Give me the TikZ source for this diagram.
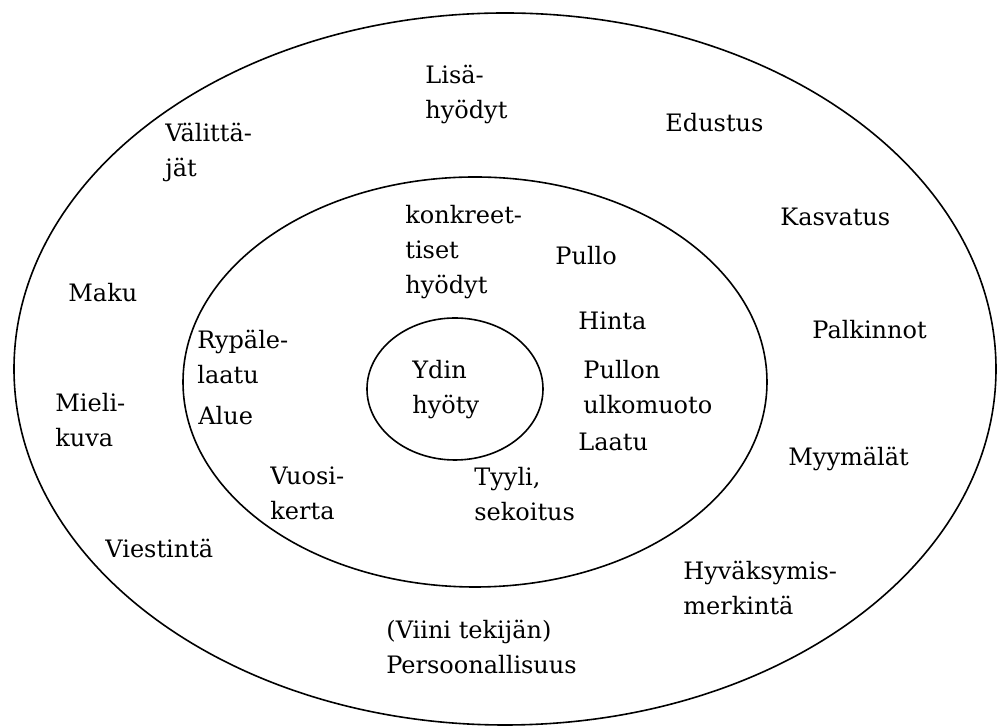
\documentclass[tikz,border=0pt]{standalone}
\usepackage{fontspec}
\setmainfont{DejaVu Serif}
\usepackage{tikz}

\begin{document}
\begin{tikzpicture}[x=0.5pt, y=0.5pt,
		kehä/.style={line width=0.8pt},
		sana/.style={anchor=north west, inner sep=0pt, align=left,
			font=\fontsize{12}{17.5}\selectfont}]
				\useasboundingbox (0,0) rectangle (998,-726);
				
				% kehät
				\draw[kehä] (505,-369) ellipse (491 and 356);
				\draw[kehä] (475,-382) ellipse (292 and 205);
				\draw[kehä] (455,-389) ellipse (88 and 71);
				
				% ulkokehä
				\node[sana] (lisa) at (425,-65) {Lisä-\\hyödyt};
				\node[sana] (edustus) at (665,-113) {Edustus};
				\node[sana] (valittajat) at (165,-123) {Välittä-\\jät};
				\node[sana] (kasvatus) at (780,-208) {Kasvatus};
				\node[sana] (maku) at (68,-283) {Maku};
				\node[sana] (palkinnot) at (812,-320) {Palkinnot};
				\node[sana] (mielikuva) at (55,-393) {Mieli-\\kuva};
				\node[sana] (myymalat) at (788,-447) {Myymälät};
				\node[sana] (viestinta) at (105,-539) {Viestintä};
				\node[sana] (hyvaksymis) at (683,-561) {Hyväksymis-\\merkintä};
				\node[sana] (persoona) at (386,-620) {(Viini tekijän)\\Persoonallisuus};
				
				% keskikehä
				\node[sana] (konkreet) at (405,-205) {konkreet-\\tiset\\hyödyt};
				\node[sana] (pullo) at (555,-246) {Pullo};
				\node[sana] (hinta) at (578,-311) {Hinta};
				\node[sana] (rypale) at (197,-330) {Rypäle-\\laatu};
				\node[sana] (pullon) at (583,-360) {Pullon\\ulkomuoto};
				\node[sana] (alue) at (198,-406) {Alue};
				\node[sana] (laatu) at (578,-433) {Laatu};
				\node[sana] (vuosi) at (270,-466) {Vuosi-\\kerta};
				\node[sana] (tyyli) at (474,-467) {Tyyli,\\sekoitus};
				
				% ydin
				\node[sana] (ydin) at (412,-360) {Ydin\\hyöty};
			\end{tikzpicture}
\end{document}
